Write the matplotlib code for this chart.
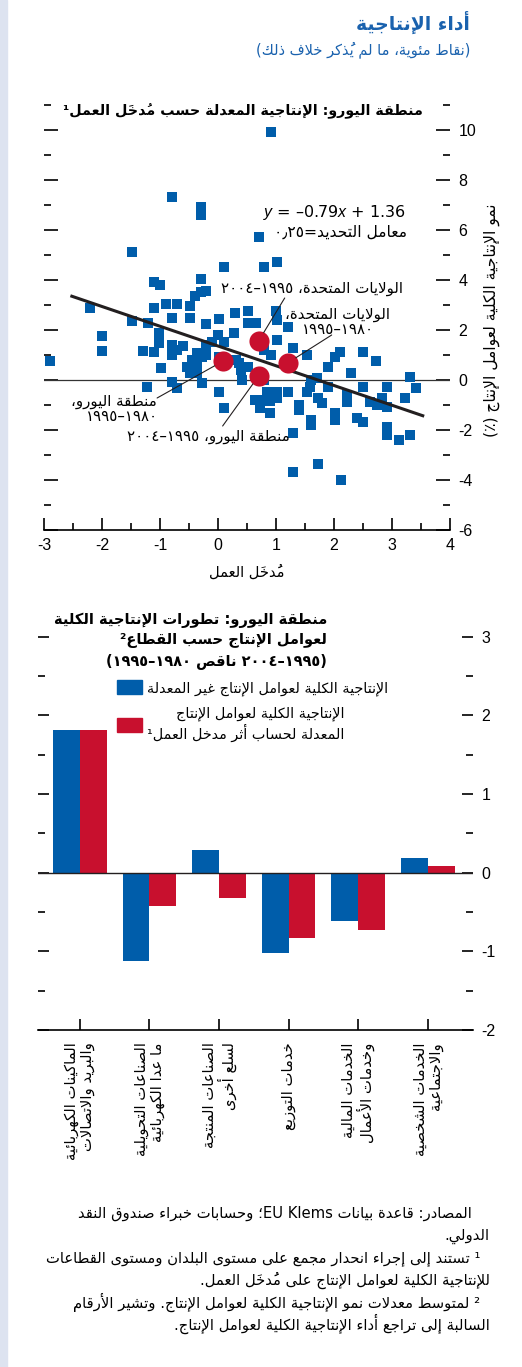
import numpy as np
import matplotlib
matplotlib.use('Agg')
import matplotlib.pyplot as plt
from matplotlib.patches import Rectangle, Patch

plt.rcParams['font.family'] = ['DejaVu Sans']
plt.rcParams['axes.unicode_minus'] = False
plt.rcParams['mathtext.fontset'] = 'custom'
plt.rcParams['mathtext.rm'] = 'Liberation Sans'
plt.rcParams['mathtext.it'] = 'Liberation Sans:italic'

NUMFONT = ['Liberation Sans Narrow', 'Liberation Sans', 'DejaVu Sans']

# --- arabic shaping (no arabic_reshaper / bidi available) ---
_table = [('ء', 0xFE80, 1), ('آ', 0xFE81, 2), ('أ', 0xFE83, 2), ('ؤ', 0xFE85, 2),
          ('إ', 0xFE87, 2), ('ئ', 0xFE89, 4), ('ا', 0xFE8D, 2), ('ب', 0xFE8F, 4),
          ('ة', 0xFE93, 2), ('ت', 0xFE95, 4), ('ث', 0xFE99, 4), ('ج', 0xFE9D, 4),
          ('ح', 0xFEA1, 4), ('خ', 0xFEA5, 4), ('د', 0xFEA9, 2), ('ذ', 0xFEAB, 2),
          ('ر', 0xFEAD, 2), ('ز', 0xFEAF, 2), ('س', 0xFEB1, 4), ('ش', 0xFEB5, 4),
          ('ص', 0xFEB9, 4), ('ض', 0xFEBD, 4), ('ط', 0xFEC1, 4), ('ظ', 0xFEC5, 4),
          ('ع', 0xFEC9, 4), ('غ', 0xFECD, 4), ('ف', 0xFED1, 4), ('ق', 0xFED5, 4),
          ('ك', 0xFED9, 4), ('ل', 0xFEDD, 4), ('م', 0xFEE1, 4), ('ن', 0xFEE5, 4),
          ('ه', 0xFEE9, 4), ('و', 0xFEED, 2), ('ى', 0xFEEF, 2), ('ي', 0xFEF1, 4)]
FORMS = {c: (b, n) for c, b, n in _table}
LAMALEF = {'آ': 0xFEF5, 'أ': 0xFEF7, 'إ': 0xFEF9, 'ا': 0xFEFB}
MARKS = set('\u064B\u064C\u064D\u064E\u064F\u0650\u0651\u0652')
LTR = set('0123456789٠١٢٣٤٥٦٧٨٩ABCDEFGHIJKLMNOPQRSTUVWXYZabcdefghijklmnopqrstuvwxyz')
MIRROR = {'(': ')', ')': '('}


def _jt(t):
    if t.startswith('LA'):
        return 'R'
    if t in FORMS:
        return {4: 'D', 2: 'R'}.get(FORMS[t][1], 'U')
    return 'U'


def shape(s):
    toks = []
    i = 0
    while i < len(s):
        c = s[i]
        if c in MARKS and toks:
            toks[-1][1] += c
        elif c == 'ل' and i + 1 < len(s) and s[i + 1] in LAMALEF:
            toks.append(['LA' + s[i + 1], ''])
            i += 1
        else:
            toks.append([c, ''])
        i += 1
    out = []
    for k, (t, m) in enumerate(toks):
        jt = _jt(t)
        prev = _jt(toks[k - 1][0]) if k > 0 else 'U'
        nxt = _jt(toks[k + 1][0]) if k + 1 < len(toks) else 'U'
        jp = jt in ('D', 'R') and prev == 'D'
        jn = jt == 'D' and nxt in ('D', 'R')
        if t.startswith('LA'):
            g = chr(LAMALEF[t[2]] + (1 if jp else 0))
        elif jt == 'U':
            g = chr(FORMS[t][0]) if t in FORMS else t
        else:
            b = FORMS[t][0]
            g = chr(b + (3 if jp and jn else 1 if jp else 2 if jn else 0))
        # mark goes first so it is drawn over its own letter
        out.append(m + g)
    return out


def ar(s):
    lines = []
    for line in s.split('\n'):
        cl = shape(line)
        groups = []
        i = 0
        while i < len(cl):
            if cl[i] in LTR:
                j = i
                while j < len(cl) and (cl[j] in LTR or (cl[j] in ' .,٫' and j + 1 < len(cl) and cl[j + 1] in LTR)):
                    j += 1
                groups.append(''.join(cl[i:j]))
                i = j
            else:
                groups.append(MIRROR.get(cl[i], cl[i]))
                i += 1
        lines.append(''.join(groups[::-1]))
    return '\n'.join(lines)


# --- data ---
lab_x = [0.91, -0.79, -0.30, -0.30, 0.70, -1.49, 0.11, 0.80, 1.01, -1.10, -1.00, -0.30, -0.30, -0.20,
         -0.39, -2.20, -1.10, -0.89, -0.70, -0.49, 0.30, 0.51, 1.00, -1.49, -1.20, -0.79, -0.49, -0.20,
         0.01, 0.51, 1.01, 1.20, -2.00, -2.00, -2.90, -1.30, -1.10, -1.01, -1.01, -0.79, -0.70, -0.60,
         -0.79, -0.99, -0.54, -0.37, -0.37, -0.37, -0.49, -0.28, -0.20, -0.10, 0.11, -0.20, 0.27, 0.00,
         0.02, -0.45, -1.22, -0.79, -0.70, 0.02, 0.11, 0.37, 0.51, 0.41, 0.80, 0.84, 1.01, 1.01, 0.63,
         0.75, 0.89, 0.72, 0.89, 1.29, 1.53, 2.10, 2.01, 2.50, 2.72, 1.89, 2.30, 1.20, 1.58, 1.70, 1.61,
         1.53, 1.72, 1.80, 1.40, 1.40, 1.89, 2.22, 2.22, 2.50, 2.62, 2.74, 2.91, 2.82, 2.91, 3.31, 3.41,
         3.22, 2.01, 2.01, 2.39, 2.50, 1.61, 1.61, 2.91, 2.91, 3.12, 3.31, 1.30, 1.30, 1.72, 2.12, 1.01,
         0.66, 0.80, 0.92, 0.31, 0.40, -0.28]
tfp_y = [9.92, 7.32, 6.92, 6.60, 5.72, 5.12, 4.52, 4.52, 4.72, 3.92, 3.80, 4.04, 3.52, 3.56,
         3.36, 2.88, 2.88, 3.04, 3.04, 2.96, 2.68, 2.76, 2.76, 2.36, 2.28, 2.48, 2.48, 2.24,
         2.44, 2.28, 2.40, 2.12, 1.76, 1.16, 0.76, 1.16, 1.12, 1.88, 1.48, 1.40, 1.20, 1.36,
         1.00, 0.48, 0.52, 1.08, 0.68, 0.28, 0.28, -0.12, 1.40, 1.52, 1.52, 1.00, 1.88, 1.80,
         0.92, 0.80, -0.28, -0.08, -0.32, -0.48, -1.12, 0.68, 0.52, 0.00, 0.00, -0.48, -0.48, -0.72, -0.80,
         -0.80, -0.84, -1.12, -1.32, 1.28, 1.00, 1.12, 0.92, 1.12, 0.76, 0.52, 0.28, -0.48, -0.28, 0.08, 0.00,
         -0.48, -0.72, -0.92, -1.00, -1.20, -0.28, -0.60, -0.88, -0.28, -0.88, -1.00, -0.28, -0.72, -1.08, 0.12, -0.32,
         -0.72, -1.32, -1.60, -1.52, -1.68, -1.60, -1.80, -1.88, -2.20, -2.40, -2.20, -2.12, -3.68, -3.36, -4.00, 1.60,
         2.28, 1.20, 1.00, 0.80, 0.40, 0.92]

region_x = [0.09, 0.70, 0.70, 1.20]
region_y = [0.76, 1.56, 0.16, 0.68]
region_labels = ['منطقة اليورو،\n١٩٨٠–١٩٩٥', 'الولايات المتحدة، ١٩٩٥–٢٠٠٤',
                 'منطقة اليورو، ١٩٩٥–٢٠٠٤', 'الولايات المتحدة،\n١٩٨٠–١٩٩٥']
slope, intercept = -0.79, 1.36
fit_x = [-2.52, 3.53]

sectors = ['الماكينات الكهربائية\nوالبريد والاتصالات', 'الصناعات التحويلية\nما عدا الكهربائية',
           'الصناعات المنتجة\nلسلع أخرى', 'خدمات التوزيع', 'الخدمات المالية\nوخدمات الأعمال',
           'الخدمات الشخصية\nوالاجتماعية']
unadjusted = [1.81, -1.12, 0.29, -1.02, -0.61, 0.19]
adjusted = [1.81, -0.42, -0.32, -0.83, -0.73, 0.09]

BLUE = '#005DAA'
RED = '#C8102E'
TBLUE = '#1A62AE'
INK = '#231F20'

W, H = 522, 1367
fig = plt.figure(figsize=(W / 100, H / 100), dpi=100)


def fx(p):
    return p / W


def fy(p):
    return 1 - p / H


fig.patches.append(Rectangle((0, 0), fx(7), 1, transform=fig.transFigure, color='#dde3f0', zorder=0))

fig.text(fx(470), fy(22), ar('أداء الإنتاجية'), ha='right', va='center', fontsize=13.5,
         weight='bold', color=TBLUE)
fig.text(fx(470), fy(50), ar('(نقاط مئوية، ما لم يُذكر خلاف ذلك)'), ha='right', va='center',
         fontsize=10.5, color=TBLUE)

# --- scatter panel ---
ax1 = fig.add_axes([fx(44), fy(530), fx(450) - fx(44), (530 - 105) / H])
ax1.set_xlim(-3, 4)
ax1.set_ylim(-6, 11)
ax1.axhline(0, color='#333333', lw=0.9, zorder=2)
ax1.scatter(lab_x, tfp_y, marker='s', s=55, color=BLUE, linewidths=0, zorder=3)
ax1.plot(fit_x, [slope * v + intercept for v in fit_x], color=INK, lw=2.2, zorder=4)
ax1.scatter(region_x, region_y, s=210, color=RED, linewidths=0, zorder=5)

for s in ['left', 'top', 'right']:
    ax1.spines[s].set_visible(False)
ax1.spines['bottom'].set_linewidth(1.2)
ax1.set_xticks(range(-3, 5))
ax1.set_xticks(np.arange(-2.5, 4, 1), minor=True)
ax1.set_yticks(range(-6, 11, 2))
ax1.set_yticks(range(-5, 12, 2), minor=True)
ax1.tick_params(axis='x', which='major', direction='in', length=9, width=1.2, pad=6)
ax1.tick_params(axis='x', which='minor', direction='in', length=5, width=1.2)
ax1.tick_params(axis='y', which='both', direction='in', left=True, right=True,
                labelleft=False, labelright=True, width=1.2, pad=6)
ax1.tick_params(axis='y', which='major', length=10)
ax1.tick_params(axis='y', which='minor', length=5)
for t in ax1.get_xticklabels() + ax1.get_yticklabels():
    t.set_fontfamily(NUMFONT)
    t.set_fontsize(11.5)
ax1.set_xlabel(ar('مُدخَل العمل'), fontsize=10.5, labelpad=8)
fig.text(fx(492), fy(320), ar('نمو الإنتاجية الكلية لعوامل الإنتاج (٪)'), rotation=90,
         ha='center', va='center', fontsize=11.2)
fig.text(fx(423), fy(111), ar('منطقة اليورو: الإنتاجية المعدلة حسب مُدخَل العمل¹'),
         ha='right', va='center', fontsize=10.3, weight='bold')

ax1.text(3.25, 6.72, r'$y$ = –0.79$x$ + 1.36', ha='right', va='center', fontsize=11.5)
ax1.text(3.25, 5.92, ar('معامل التحديد=٠٫٢٥'), ha='right', va='center', fontsize=11.2)

label_pos = [(-1.05, -1.16), (3.19, 3.68), (1.24, -2.28), (2.96, 2.32)]
line_end = [(-1.05, -0.72), (1.15, 3.28), (0.08, -1.84), (1.96, 1.80)]
for i in range(4):
    lx, ly = label_pos[i]
    ax1.text(lx, ly, ar(region_labels[i]), ha='right', va='center', fontsize=10.8,
             multialignment='center' if i == 3 else 'right', linespacing=1.05, zorder=6)
    ax1.annotate('', xy=(region_x[i], region_y[i]), xytext=line_end[i],
                 arrowprops=dict(arrowstyle='-', lw=0.8, color=INK, shrinkA=0, shrinkB=7), zorder=6)

# --- bar panel ---
ax2 = fig.add_axes([fx(38), fy(1030), fx(473) - fx(38), (1030 - 613) / H])
pos = np.arange(len(sectors))
w = 0.385
ax2.bar(pos - w / 2, unadjusted, w, color=BLUE, zorder=3)
ax2.bar(pos + w / 2, adjusted, w, color=RED, zorder=3)
ax2.axhline(0, color=INK, lw=1, zorder=4)
ax2.set_xlim(-0.6, 5.65)
ax2.set_ylim(-2, 3.3)
for s in ['left', 'top', 'right']:
    ax2.spines[s].set_visible(False)
ax2.spines['bottom'].set_linewidth(1.2)
ax2.set_xticks(pos)
ax2.set_xticklabels([ar(s) for s in sectors], rotation=90, va='top', ha='center',
                    multialignment='right', fontsize=10.6, linespacing=1.05)
ax2.tick_params(axis='x', direction='in', length=8, width=1.2, pad=9)
ax2.set_yticks(range(-2, 4))
ax2.set_yticks(np.arange(-1.5, 3, 1), minor=True)
ax2.tick_params(axis='y', which='both', direction='in', left=True, right=True,
                labelleft=False, labelright=True, width=1.2, pad=6)
ax2.tick_params(axis='y', which='major', length=8)
ax2.tick_params(axis='y', which='minor', length=5)
for t in ax2.get_yticklabels():
    t.set_fontfamily(NUMFONT)
    t.set_fontsize(11.5)

fig.text(fx(327), fy(620), ar('منطقة اليورو: تطورات الإنتاجية الكلية'), ha='right', va='center',
         fontsize=10.5, weight='bold')
fig.text(fx(327), fy(641), ar('لعوامل الإنتاج حسب القطاع²'), ha='right', va='center',
         fontsize=10.5, weight='bold')
fig.text(fx(327), fy(661), ar('(١٩٩٥–٢٠٠٤ ناقص ١٩٨٠–١٩٩٥)'), ha='right', va='center',
         fontsize=10.5, weight='bold')

leg = ax2.legend([Patch(color=BLUE), Patch(color=RED)],
                 [ar('الإنتاجية الكلية لعوامل الإنتاج غير المعدلة'),
                  ar('الإنتاجية الكلية لعوامل الإنتاج\nالمعدلة لحساب أثر مدخل العمل¹')],
                 loc='upper left', bbox_to_anchor=(fx(117), fy(680)), bbox_transform=fig.transFigure,
                 frameon=False, fontsize=10.4, handlelength=1.75, handleheight=1.15,
                 handletextpad=0.35, borderpad=0, borderaxespad=0, labelspacing=0.75)
for t in leg.get_texts():
    t.set_multialignment('right')

notes = [('المصادر: قاعدة بيانات EU Klems؛ وحسابات خبراء صندوق النقد', 472, 1213),
         ('الدولي.', 490, 1236),
         ('¹ تستند إلى إجراء انحدار مجمع على مستوى البلدان ومستوى القطاعات', 480, 1258),
         ('للإنتاجية الكلية لعوامل الإنتاج على مُدخَل العمل.', 490, 1280),
         ('² لمتوسط معدلات نمو الإنتاجية الكلية لعوامل الإنتاج. وتشير الأرقام', 480, 1302),
         ('السالبة إلى تراجع أداء الإنتاجية الكلية لعوامل الإنتاج.', 490, 1324)]
for txt, xr, yp in notes:
    fig.text(fx(xr), fy(yp), ar(txt), ha='right', va='center', fontsize=10.6)

fig.savefig('out.png', dpi=100)
